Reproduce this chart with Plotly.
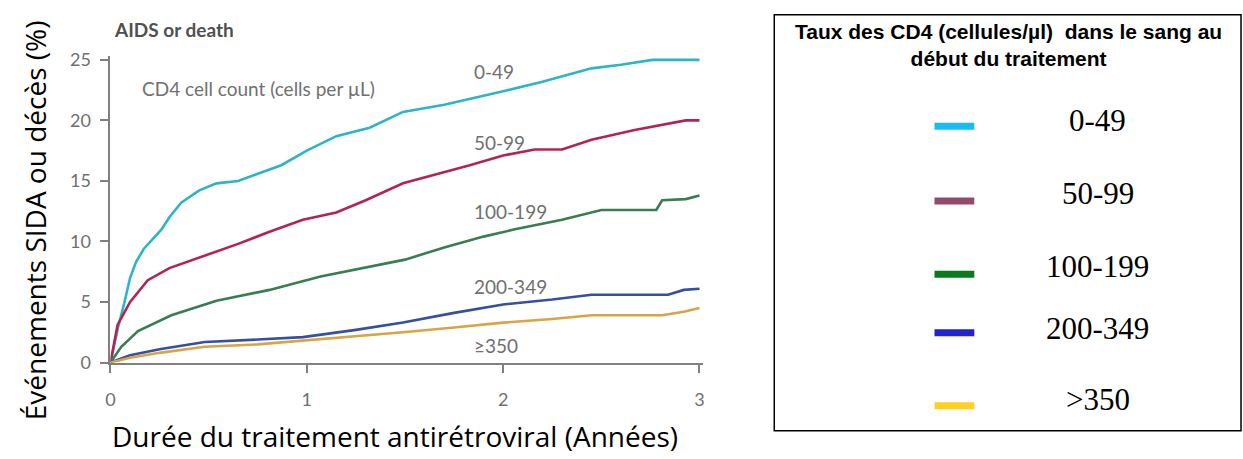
import plotly.graph_objects as go

# ---------------- data ----------------
x_049 = [0, 0.02, 0.04, 0.07, 0.1, 0.13, 0.17, 0.26, 0.3, 0.36, 0.45, 0.54, 0.65, 0.75, 0.87, 1.0, 1.15, 1.32, 1.49, 1.7, 2.0, 2.2, 2.45, 2.6, 2.76, 3.0]
y_049 = [0, 1.5, 3.0, 4.9, 7.0, 8.3, 9.4, 11.0, 12.0, 13.2, 14.2, 14.8, 15.0, 15.6, 16.3, 17.5, 18.7, 19.4, 20.7, 21.3, 22.4, 23.2, 24.3, 24.6, 25.0, 25.0]

x_5099 = [0, 0.036, 0.1, 0.19, 0.3, 0.48, 0.65, 0.81, 0.98, 1.15, 1.3, 1.49, 1.65, 1.83, 2.0, 2.16, 2.3, 2.45, 2.67, 2.93, 3.0]
y_5099 = [0, 3.1, 5.0, 6.8, 7.8, 8.8, 9.8, 10.8, 11.8, 12.4, 13.4, 14.8, 15.5, 16.3, 17.1, 17.6, 17.6, 18.4, 19.2, 20.0, 20.0]

x_100199 = [0, 0.055, 0.14, 0.31, 0.54, 0.81, 1.07, 1.32, 1.5, 1.7, 1.9, 2.06, 2.3, 2.5, 2.78, 2.81, 2.93, 3.0]
y_100199 = [0, 1.3, 2.6, 3.9, 5.1, 6.0, 7.1, 7.9, 8.5, 9.5, 10.4, 11.0, 11.8, 12.6, 12.6, 13.4, 13.5, 13.8]

x_200349 = [0, 0.1, 0.25, 0.48, 0.75, 0.98, 1.25, 1.49, 1.75, 2.0, 2.25, 2.45, 2.84, 2.92, 3.0]
y_200349 = [0, 0.6, 1.1, 1.7, 1.9, 2.1, 2.7, 3.3, 4.1, 4.8, 5.2, 5.6, 5.6, 6.0, 6.1]

x_350 = [0, 0.1, 0.25, 0.48, 0.75, 0.98, 1.25, 1.49, 1.75, 2.0, 2.25, 2.45, 2.81, 2.92, 3.0]
y_350 = [0, 0.4, 0.8, 1.3, 1.5, 1.8, 2.2, 2.5, 2.9, 3.3, 3.6, 3.9, 3.9, 4.2, 4.5]

series_names = ["0-49", "50-99", "100-199", "200-349", ">350"]
curve_labels = ["0-49", "50-99", "100-199", "200-349", "≥350"]
label_y = [24.0, 18.2, 12.5, 6.3, 1.4]
line_colors = ["#2bb5c6", "#b42450", "#3a7d52", "#34509e", "#d9a445"]
legend_colors = ["#16bcf2", "#944a6c", "#0b7a1c", "#2424cc", "#ffcf22"]
x_ticks = [0, 1, 2, 3]
y_ticks = [0, 5, 10, 15, 20, 25]

xs = [x_049, x_5099, x_100199, x_200349, x_350]
ys = [y_049, y_5099, y_100199, y_200349, y_350]

fig = go.Figure()
for name, xv, yv, c in zip(series_names, xs, ys, line_colors):
    fig.add_trace(go.Scatter(x=xv, y=yv, mode="lines", name=name,
                             line=dict(color=c, width=2.6), showlegend=False))

gray = "#808080"
tick_font = dict(family="Lato, sans-serif", size=18, color="#707070")

fig.update_layout(
    width=1243, height=459,
    margin=dict(l=0, r=0, t=0, b=0),
    paper_bgcolor="white", plot_bgcolor="white",
    showlegend=False,
    xaxis=dict(domain=[106 / 1243, 701.8 / 1243], range=[0, 3.02],
               tickvals=x_ticks, ticks="outside", ticklen=8, tickwidth=1.5,
               tickcolor=gray, showline=True, linecolor=gray, linewidth=2,
               showgrid=False, zeroline=False, tickfont=tick_font,
               ticklabelstandoff=12),
    yaxis=dict(domain=[1 - 369 / 459, 1 - 50.2 / 459], range=[0, 25.3],
               tickvals=y_ticks, ticks="outside", ticklen=8, tickwidth=1.5,
               tickcolor=gray, showline=True, linecolor=gray, linewidth=2,
               showgrid=False, zeroline=False, tickfont=tick_font,
               ticklabelstandoff=6),
)

ann_font = dict(family="Lato, sans-serif", size=19, color="#707070")
for lab, ly in zip(curve_labels, label_y):
    fig.add_annotation(x=1.84, y=ly, xref="x", yref="y", text=lab, showarrow=False,
                       xanchor="left", yanchor="middle", font=ann_font)
fig.add_annotation(x=0.15, y=22.6, xref="x", yref="y", text="CD4 cell count (cells per µL)",
                   showarrow=False, xanchor="left", yanchor="middle", font=ann_font)
fig.add_annotation(x=108 / 1243, y=1 - 22 / 459, xref="paper", yref="paper", text="<b>AIDS or death</b>",
                   showarrow=False, xanchor="left", yanchor="middle",
                   font=dict(family="Lato, sans-serif", size=19, color="#505050"))

# axis titles
title_font = dict(family="Open Sans, sans-serif", size=28, color="black")
fig.add_annotation(x=392 / 1243, y=1 - 445 / 459, xref="paper", yref="paper",
                   text="Durée du traitement antirétroviral (Années)", showarrow=False,
                   xanchor="center", yanchor="middle", font=title_font)
fig.add_annotation(x=30 / 1243, y=1 - 221 / 459, xref="paper", yref="paper",
                   text="Événements SIDA ou décès (%)", showarrow=False, textangle=-90,
                   xanchor="center", yanchor="middle", font=title_font)

# legend box
fig.add_shape(type="rect", xref="paper", yref="paper",
              x0=773 / 1243, x1=1242 / 1243, y0=1 - 440 / 459, y1=1 - 7 / 459,
              line=dict(color="black", width=1.5), fillcolor="rgba(0,0,0,0)")
fig.add_annotation(x=1008 / 1243, y=1 - 38 / 459, xref="paper", yref="paper",
                   text="<b>Taux des CD4 (cellules/µl)  dans le sang au<br>début du traitement</b>",
                   showarrow=False, xanchor="center", yanchor="middle", align="center",
                   font=dict(family="Liberation Sans, Arial, sans-serif", size=21, color="black"))
leg_line_y = [123, 201, 277, 338, 414]
leg_text_y = [117, 193, 269, 334, 407]
for name, c, ly, ty in zip(series_names, legend_colors, leg_line_y, leg_text_y):
    fig.add_shape(type="line", xref="paper", yref="paper",
                  x0=934 / 1243, x1=974 / 1243, y0=1 - ly / 459, y1=1 - ly / 459,
                  line=dict(color=c, width=7))
    fig.add_annotation(x=1098 / 1243, y=1 - ty / 459, xref="paper", yref="paper",
                       text=name.replace(">", "&gt;"), showarrow=False, xanchor="center", yanchor="middle",
                       font=dict(family="Liberation Serif, Times New Roman, serif", size=31, color="black"))

fig.write_html("out.html")
